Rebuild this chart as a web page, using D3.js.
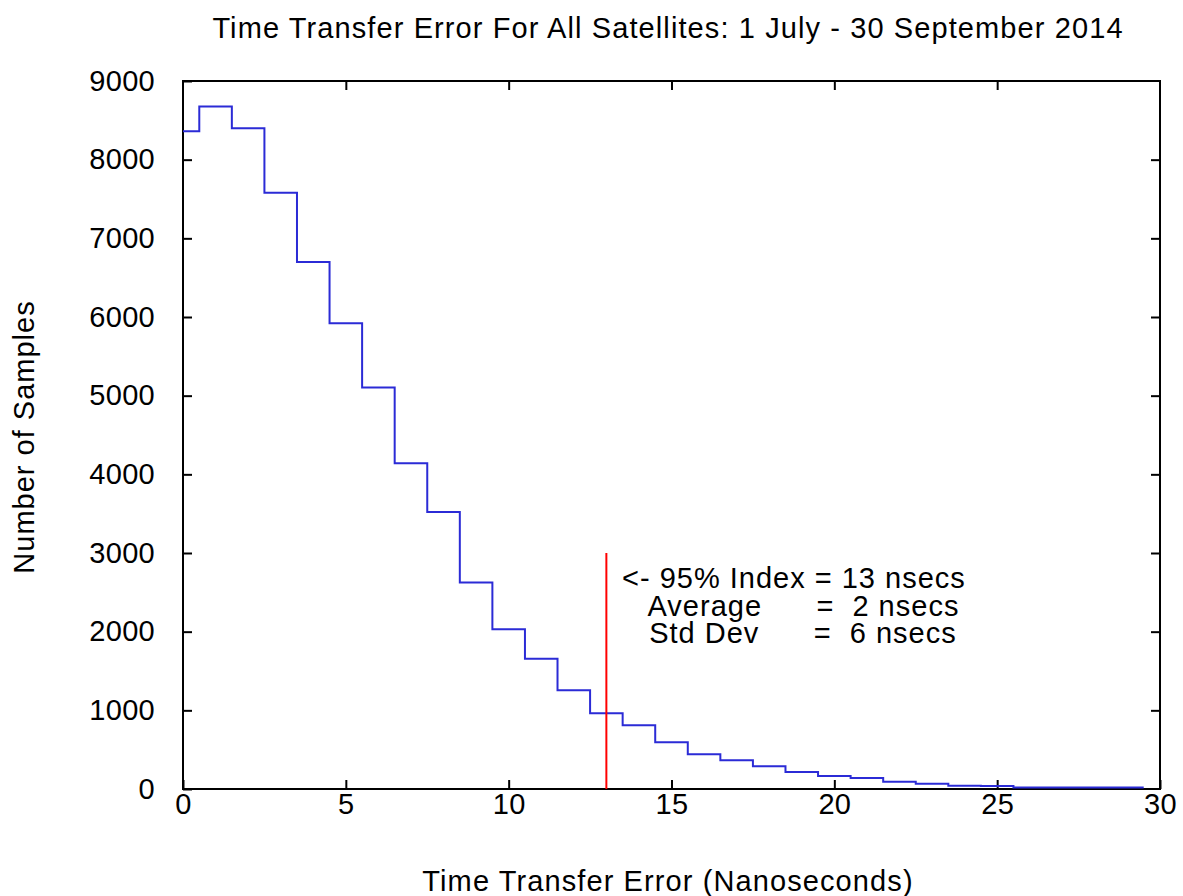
<!DOCTYPE html>
<html>
<head>
<meta charset="utf-8">
<script src="https://cdn.jsdelivr.net/npm/d3@7"></script>
<style>
  body { margin: 0; background: #fff; }
  text { font-family: "Liberation Sans", Arial, sans-serif; fill: #000; }
  .tick text { font-size: 29px; letter-spacing: 0.3px; }
  .label { font-size: 29px; letter-spacing: 1.1px; }
</style>
</head>
<body>
<div id="chart"></div>
<script>
// Histogram bins (centre of bin, in nanoseconds) and sample counts
var binCentres = [0, 1, 2, 3, 4, 5, 6, 7, 8, 9, 10, 11, 12, 13, 14, 15, 16, 17, 18, 19,
    20, 21, 22, 23, 24, 25, 26, 27, 28, 29];
var sampleCounts = [8360, 8675, 8400, 7580, 6700, 5920, 5105, 4140, 3520, 2625, 2030, 1655, 1255, 962, 810,
    593, 441, 365, 288, 216, 165, 140, 93, 67, 40, 38, 18, 18, 18, 18];

var xTicks = [0, 5, 10, 15, 20, 25, 30];
var yTicks = [0, 1000, 2000, 3000, 4000, 5000, 6000, 7000, 8000, 9000];

// 95% index marker
var markerX = 13;
var markerTop = 3000;
var noteLines = ["<- 95% Index = 13 nsecs", "   Average      =  2 nsecs", "   Std Dev      =  6 nsecs"];

var titleText = "Time Transfer Error For All Satellites: 1 July - 30 September 2014";
var xLabelText = "Time Transfer Error (Nanoseconds)";
var yLabelText = "Number of Samples";

//Set up the box
var svgWidth = 1183;
var svgHeight = 896;

var margin = {
    top: 81,
    right: 23,
    bottom: 107,
    left: 183
};

var width = svgWidth - margin.left - margin.right;
var height = svgHeight - margin.top - margin.bottom;

var svg = d3.select("#chart")
    .append("svg")
    .attr("width", svgWidth)
    .attr("height", svgHeight);

var chartGroup = svg.append("g")
    .attr("transform", `translate(${margin.left}, ${margin.top})`);

var xScale = d3.scaleLinear().domain([0, 30]).range([0, width]);
var yScale = d3.scaleLinear().domain([0, 9000]).range([height, 0]);

// Axes: ticks point inward and are mirrored on top / right
var bottomAxis = d3.axisBottom(xScale).tickValues(xTicks).tickSizeInner(-9).tickSizeOuter(0).tickPadding(4);
var topAxis = d3.axisTop(xScale).tickValues(xTicks.slice(1, -1)).tickSizeInner(-9).tickSizeOuter(0).tickFormat("");
var leftAxis = d3.axisLeft(yScale).tickValues(yTicks).tickSizeInner(-9).tickSizeOuter(0).tickPadding(28)
    .tickFormat(d3.format("d"));
var rightAxis = d3.axisRight(yScale).tickValues(yTicks.slice(1, -1)).tickSizeInner(-9).tickSizeOuter(0).tickFormat("");

chartGroup.append("g").attr("transform", `translate(0, ${height})`).call(bottomAxis);
chartGroup.append("g").call(topAxis);
chartGroup.append("g").call(leftAxis);
chartGroup.append("g").attr("transform", `translate(${width}, 0)`).call(rightAxis);

chartGroup.selectAll(".domain").remove();
chartGroup.selectAll(".tick line").attr("stroke", "#000").attr("stroke-width", 2);
chartGroup.selectAll(".tick text").attr("fill", "#000");

// Frame
chartGroup.append("rect")
    .attr("x", 0)
    .attr("y", 0)
    .attr("width", width)
    .attr("height", height)
    .attr("fill", "none")
    .attr("stroke", "#000")
    .attr("stroke-width", 2);

// Step outline (histeps): each bin spans centre +/- 0.5, clipped at 0
var stepPoints = binCentres.map((c, i) => [Math.max(0, c - 0.5), sampleCounts[i]]);
stepPoints.push([binCentres[binCentres.length - 1] + 0.5, sampleCounts[sampleCounts.length - 1]]);

var stepLine = d3.line()
    .x(d => xScale(d[0]))
    .y(d => yScale(d[1]))
    .curve(d3.curveStepAfter);

chartGroup.append("path")
    .datum(stepPoints)
    .attr("d", stepLine)
    .attr("fill", "none")
    .attr("stroke", "#2b2bd6")
    .attr("stroke-width", 2);

// Red marker at the 95% index
chartGroup.append("line")
    .attr("x1", xScale(markerX))
    .attr("x2", xScale(markerX))
    .attr("y1", yScale(0))
    .attr("y2", yScale(markerTop))
    .attr("stroke", "#ff0000")
    .attr("stroke-width", 2);

// Annotation text, one text per line
chartGroup.selectAll(".note")
    .data(noteLines)
    .enter()
    .append("text")
    .attr("class", "note label")
    .attr("x", xScale(markerX + 0.48))
    .attr("y", (d, i) => yScale(markerTop) + 35 + i * 27.5)
    .style("white-space", "pre")
    .style("letter-spacing", "1px")
    .text(d => d);

// Title and axis labels
svg.append("text")
    .attr("class", "label")
    .attr("x", 668)
    .attr("y", 38)
    .attr("text-anchor", "middle")
    .text(titleText);

svg.append("text")
    .attr("class", "label")
    .attr("x", 668)
    .attr("y", 891)
    .attr("text-anchor", "middle")
    .text(xLabelText);

svg.append("text")
    .attr("class", "label")
    .attr("transform", "translate(34, 437) rotate(-90)")
    .attr("text-anchor", "middle")
    .style("letter-spacing", "1px")
    .text(yLabelText);
</script>
</body>
</html>
